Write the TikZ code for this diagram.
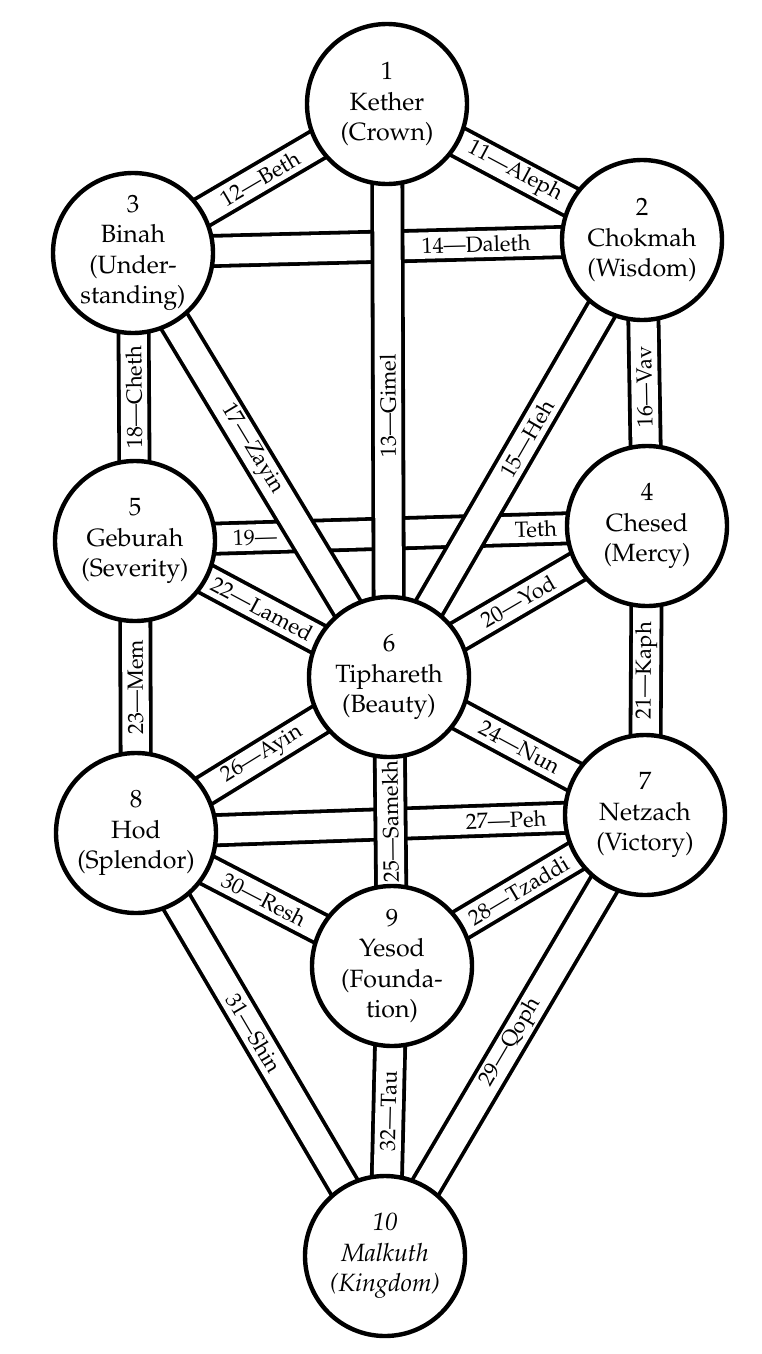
\documentclass[tikz,border=0pt]{standalone}
\usepackage[T1]{fontenc}
\renewcommand{\rmdefault}{ppl}
\pgfdeclarelayer{back}
\pgfdeclarelayer{paths}
\pgfsetlayers{back,paths,main}
\tikzset{
  sephira/.style={circle, draw=black, line width=4.4pt, fill=white, minimum size=160pt,
    inner sep=0pt, align=center, font=\fontsize{25}{30.5}\selectfont},
  band/.style={draw=black, line width=3.8pt, double=white, double distance=26.4pt},
  lab/.style={sloped, allow upside down, inner sep=0pt, font=\fontsize{22}{24}\selectfont},
}
\begin{document}
\begin{tikzpicture}[x=1pt, y=-1pt]
\begin{pgfonlayer}{back}
\fill[white] (0,0) rectangle (762,1354);
\end{pgfonlayer}
\useasboundingbox (0,0) rectangle (762,1354);

\node[sephira] (n1) at (387,104) {1\\Kether\\(Crown)};
\node[sephira] (n2) at (642,240) {2\\Chokmah\\(Wisdom)};
\node[sephira] (n3) at (133,253) {3\\Binah\\(Under-\\standing)};
\node[sephira] (n4) at (647,526) {4\\Chesed\\(Mercy)};
\node[sephira] (n5) at (135,541) {5\\Geburah\\(Severity)};
\node[sephira] (n6) at (389,677) {6\\Tiphareth\\(Beauty)};
\node[sephira] (n7) at (645,815) {7\\Netzach\\(Victory)};
\node[sephira] (n8) at (136,833) {8\\Hod\\(Splendor)};
\node[sephira] (n9) at (392,966) {9\\Yesod\\(Founda-\\tion)};
\node[sephira, font=\fontsize{25}{30.5}\selectfont\itshape] (n10) at (385,1256) {10\\Malkuth\\(Kingdom)};

\begin{pgfonlayer}{paths}
\draw[band] (n3.center) -- node[lab, pos=.674]{14---Daleth} (n2.center);
\draw[band] (n5.center) -- node[lab, pos=.234]{19---} node[lab, pos=.783]{Teth} (n4.center);
\draw[band] (n8.center) -- node[lab, pos=.727]{27---Peh} (n7.center);
\draw[band] (n1.center) -- node[lab]{11---Aleph} (n2.center);
\draw[band] (n3.center) -- node[lab]{12---Beth} (n1.center);
\draw[band] (n6.center) -- node[lab, pos=.473]{13---Gimel} (n1.center);
\draw[band] (n6.center) -- node[lab, pos=.545]{15---Heh} (n2.center);
\draw[band] (n4.center) -- node[lab, pos=.486]{16---Vav} (n2.center);
\draw[band] (n3.center) -- node[lab, pos=.463]{17---Zayin} (n6.center);
\draw[band] (n5.center) -- node[lab]{18---Cheth} (n3.center);
\draw[band] (n6.center) -- node[lab]{20---Yod} (n4.center);
\draw[band] (n7.center) -- node[lab]{21---Kaph} (n4.center);
\draw[band] (n5.center) -- node[lab]{22---Lamed} (n6.center);
\draw[band] (n8.center) -- node[lab]{23---Mem} (n5.center);
\draw[band] (n6.center) -- node[lab, pos=.51]{24---Nun} (n7.center);
\draw[band] (n9.center) -- node[lab]{25---Samekh} (n6.center);
\draw[band] (n8.center) -- node[lab]{26---Ayin} (n6.center);
\draw[band] (n9.center) -- node[lab]{28---Tzaddi} (n7.center);
\draw[band] (n10.center) -- node[lab, pos=.484]{29---Qoph} (n7.center);
\draw[band] (n8.center) -- node[lab]{30---Resh} (n9.center);
\draw[band] (n8.center) -- node[lab, pos=.473]{31---Shin} (n10.center);
\draw[band] (n10.center) -- node[lab]{32---Tau} (n9.center);
\end{pgfonlayer}
\end{tikzpicture}
\end{document}
